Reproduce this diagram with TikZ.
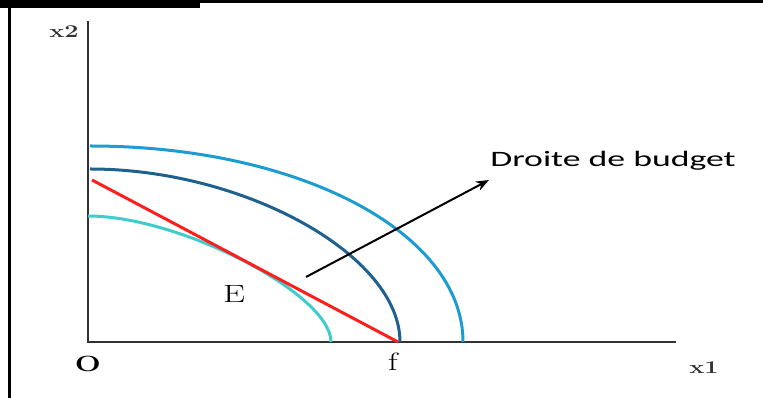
\documentclass[tikz,border=0pt]{standalone}
\usepackage{fontspec}
\newfontfamily\calibri{Carlito}
\usetikzlibrary{arrows.meta,positioning,calc}
\definecolor{indlow}{RGB}{64,204,204}
\definecolor{indmid}{RGB}{30,96,142}
\definecolor{indhigh}{RGB}{28,156,208}
\definecolor{budgetred}{RGB}{255,30,30}
\definecolor{axisgray}{RGB}{50,50,50}
\begin{document}
\begin{tikzpicture}[
  x=1pt, y=1pt,
  axis/.style={draw=axisgray, line width=2pt},
  curve/.style={line width=3pt},
  lbl/.style={inner sep=0pt, xscale=1.4},
  axlbl/.style={lbl, font=\fontsize{18}{18}\selectfont\bfseries, text=axisgray},
  ptlbl/.style={lbl, font=\fontsize{25}{25}\selectfont},
  arr/.style={-{Stealth[length=13pt,width=10pt]}, line width=2pt}
]
\useasboundingbox (0,0) rectangle (763,398);
\fill (0,390) rectangle (200,398);
\fill (200,395) rectangle (763,398);
\fill (8,0) rectangle (11,398);

\coordinate (orig) at (88,56);
\coordinate (ytop) at (88,377);
\coordinate (xend) at (676,56);
\draw[axis] (ytop) -- (orig) -- (xend);

\node[axlbl] (x2) at (64,366) {x2};
\node[axlbl] (x1) at (704,30) {x1};
\node[ptlbl, font=\fontsize{22}{22}\selectfont\bfseries] (O) at (88,34) {O};
\node[ptlbl] (f) at (393,36) {f};
\node[ptlbl] (E) at (234,104) {E};

\draw[curve, indlow] (88,182) .. controls (180,182) and (331,104) .. (331,56);
\draw[curve, indmid] (90,229) .. controls (244,229) and (400,143) .. (400,56);
\draw[curve, indhigh] (90,252) .. controls (298,252) and (463,166) .. (463,56);

\coordinate (bgtop) at (92,218);
\coordinate (bgbot) at (398,56);
\draw[curve, budgetred] (bgtop) -- (bgbot);

\node[lbl, xscale=1.16, font=\calibri\fontsize{22}{22}\selectfont, anchor=west] (budget) at (490,237) {Droite de budget};
\coordinate (arrfrom) at (306,121);
\coordinate (arrto) at (489,218);
\draw[arr] (arrfrom) -- (arrto);
\end{tikzpicture}
\end{document}
